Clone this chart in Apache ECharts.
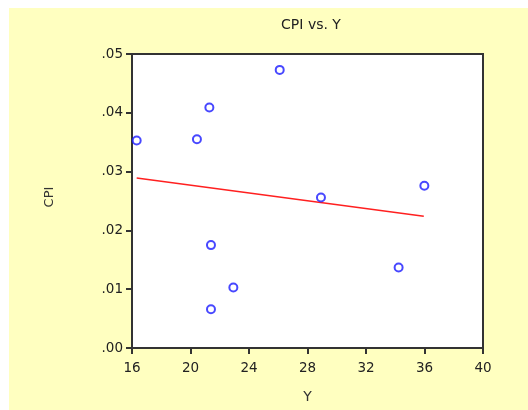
<!DOCTYPE html>
<html>
<head>
<meta charset="utf-8">
<script src="https://cdn.jsdelivr.net/npm/echarts@6/dist/echarts.min.js"></script>
<style>
html,body{margin:0;padding:0;background:#ffffff;width:528px;height:410px;overflow:hidden;}
#c{position:absolute;left:9px;top:8px;width:519px;height:402px;background:#FFFFC0;}
</style>
</head>
<body>
<div id="c"></div>
<script>
var yValues = [16.32, 20.44, 21.29, 26.10, 28.92, 35.99, 21.40, 22.93, 21.40, 34.23];
var cpiValues = [0.0353, 0.0355, 0.0409, 0.0473, 0.0256, 0.0276, 0.0175, 0.0103, 0.0066, 0.0137];
var fitX = [16.32, 35.95];
var fitY = [0.0289, 0.0224];
var xTicks = [16, 20, 24, 28, 32, 36, 40];
var yTicks = ['.00', '.01', '.02', '.03', '.04', '.05'];

var points = yValues.map(function (x, i) { return [x, cpiValues[i]]; });
var fitLine = fitX.map(function (x, i) { return [x, fitY[i]]; });

var FONT = 'DejaVu Sans, Liberation Sans, Arial';
var chart = echarts.init(document.getElementById('c'), null, {renderer: 'canvas'});
chart.setOption({
  backgroundColor: '#FFFFC0',
  animation: false,
  title: {
    text: 'CPI vs. Y',
    left: 297, top: 5, textAlign: 'center',
    textStyle: {fontFamily: FONT, fontSize: 14, fontWeight: 'normal', color: '#222'}
  },
  grid: {
    left: 123, top: 46, right: 45, bottom: 62,
    show: true, backgroundColor: '#ffffff', borderColor: '#333333', borderWidth: 2
  },
  xAxis: {
    type: 'value', min: xTicks[0], max: xTicks[xTicks.length - 1], interval: 4,
    name: 'Y', nameLocation: 'middle', nameGap: 42,
    nameTextStyle: {fontFamily: FONT, fontSize: 14, color: '#333'},
    axisLine: {show: true, onZero: false, lineStyle: {color: '#333', width: 2}},
    axisTick: {show: true, length: 6, lineStyle: {color: '#333', width: 2}},
    axisLabel: {margin: 13, fontFamily: FONT, fontSize: 13.5, color: '#222'},
    splitLine: {show: false}
  },
  yAxis: {
    type: 'value', min: 0, max: 0.05, interval: 0.01,
    name: 'CPI', nameLocation: 'middle', nameGap: 76, nameRotate: 90,
    nameTextStyle: {fontFamily: FONT, fontSize: 13, color: '#333', padding: [0, 0, 0, 8]},
    axisLine: {show: true, onZero: false, lineStyle: {color: '#333', width: 2}},
    axisTick: {show: true, length: 6, lineStyle: {color: '#333', width: 2}},
    axisLabel: {
      margin: 9, fontFamily: FONT, fontSize: 13.5, color: '#222',
      formatter: function (v) { return yTicks[Math.round(v * 100)]; }
    },
    splitLine: {show: false}
  },
  series: [
    {
      type: 'line', data: fitLine, showSymbol: false, symbol: 'none',
      lineStyle: {color: '#ff2020', width: 1.5}, z: 2
    },
    {
      type: 'scatter', data: points, symbol: 'emptyCircle', symbolSize: 8,
      itemStyle: {color: '#1a1aff', borderColor: '#1a1aff', borderWidth: 1.6}, z: 3
    }
  ]
});
</script>
</body>
</html>
